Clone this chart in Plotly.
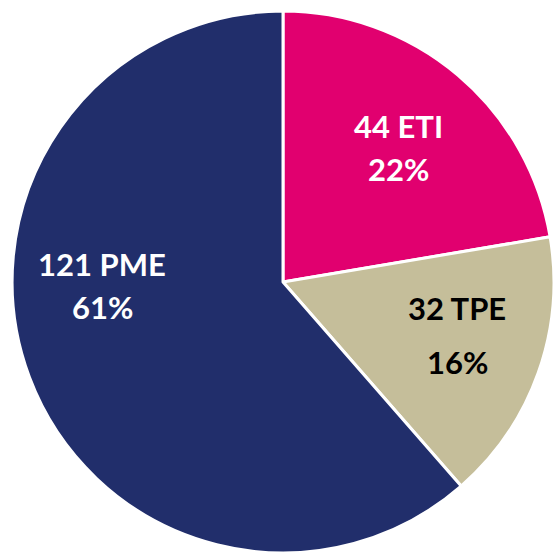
import plotly.graph_objects as go

categories = ["ETI", "TPE", "PME"]
counts = [44, 32, 121]
colors = ["#E1006F", "#C5BE9A", "#212E6B"]
text_colors = ["white", "black", "white"]

total = sum(counts)
pcts = [round(100 * c / total) for c in counts]

fig = go.Figure(go.Pie(
    labels=categories,
    values=counts,
    sort=False,
    direction="clockwise",
    rotation=0,
    marker=dict(colors=colors, line=dict(color="white", width=3)),
    textinfo="none",
    hoverinfo="label+value+percent",
    showlegend=False,
    domain=dict(x=[12 / 554, 1.0], y=[0.002, 0.980]),
))

# label positions (paper px from top-left): (x, y_line1, y_line2)
label_pos = {"ETI": (398, 126, 169), "TPE": (457, 308, 362), "PME": (102, 264, 307)}

W = H = 554
annotations = []
for cat, n, p, tc in zip(categories, counts, pcts, text_colors):
    x, y1, y2 = label_pos[cat]
    for txt, yy in ((f"{n} {cat}", y1), (f"{p}%", y2)):
        annotations.append(dict(
            x=x / W, y=1 - yy / H, xref="paper", yref="paper",
            text=f"<b>{txt}</b>", showarrow=False,
            xanchor="center", yanchor="middle",
            font=dict(family="Lato", size=31, color=tc),
        ))

fig.update_layout(
    width=W, height=H,
    margin=dict(l=0, r=0, t=0, b=0),
    paper_bgcolor="white", plot_bgcolor="white",
    annotations=annotations,
)

fig.write_html(
    "out.html",
    config={"displayModeBar": False},
    post_script="document.body.style.margin='0';document.body.style.overflow='hidden';",
)
